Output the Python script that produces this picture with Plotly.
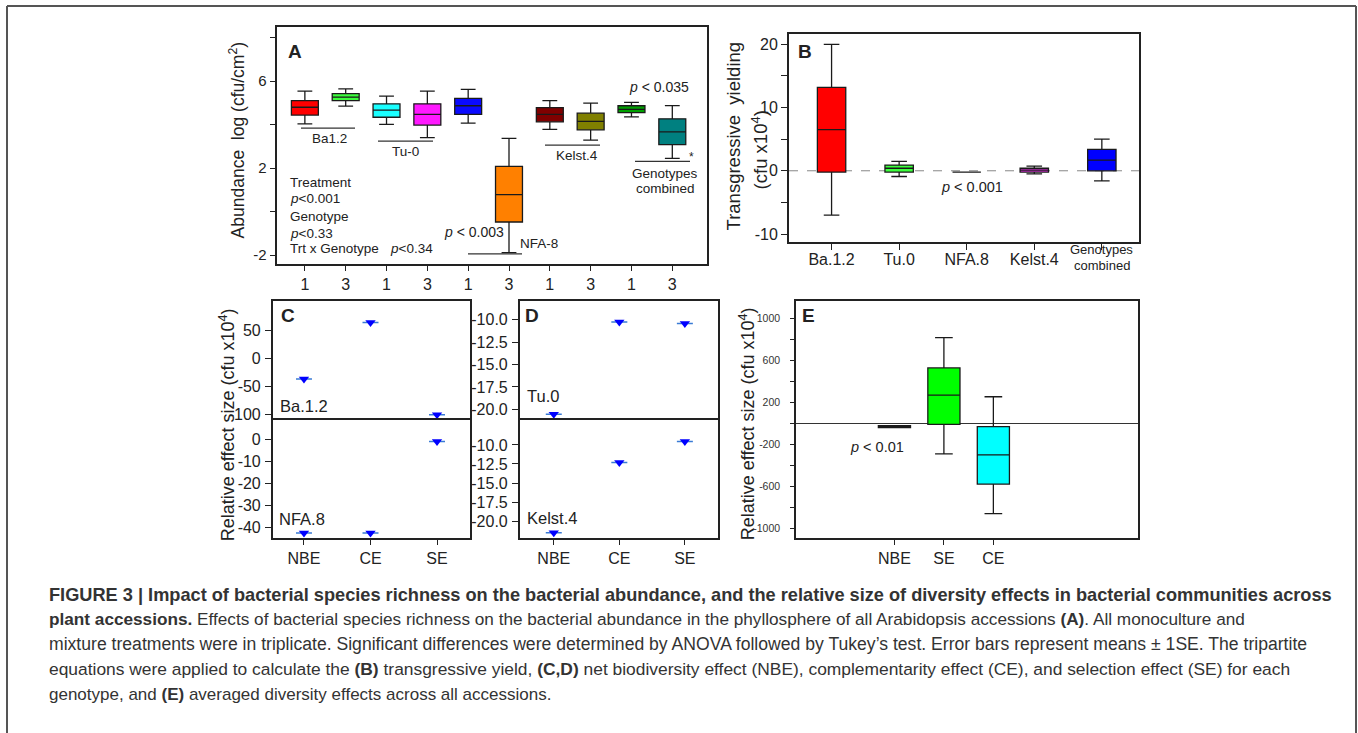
import plotly.graph_objects as go

W, H = 1358, 733

# ---------------- data ----------------
# Panel A: abundance log(cfu/cm2), richness 1 vs 3 for each genotype
a_tick_labels = ["1", "3", "1", "3", "1", "3", "1", "3", "1", "3"]
a_upper = [5.54, 5.65, 5.31, 5.54, 5.62, 3.37, 5.11, 4.99, 5.03, 4.88]
a_q3 = [5.11, 5.43, 4.96, 4.96, 5.21, 2.08, 4.78, 4.53, 4.87, 4.27]
a_median = [4.80, 5.27, 4.67, 4.47, 4.87, 0.78, 4.47, 4.15, 4.70, 3.67]
a_q1 = [4.44, 5.11, 4.34, 3.98, 4.47, -0.48, 4.13, 3.76, 4.55, 3.08]
a_lower = [4.04, 4.85, 4.01, 3.40, 4.07, -1.89, 3.78, 3.29, 4.36, 2.45]

# Panel B: transgressive yielding (cfu x10^4)
b_categories = ["Ba.1.2", "Tu.0", "NFA.8", "Kelst.4", "Genotypes combined"]
b_upper = [20.0, 1.5, -0.2, 0.75, 5.0]
b_q3 = [13.2, 0.9, -0.2, 0.4, 3.4]
b_median = [6.5, 0.4, -0.2, 0.1, 1.7]
b_q1 = [-0.2, -0.2, -0.2, -0.2, 0.0]
b_lower = [-7.0, -0.9, -0.2, -0.5, -1.6]

# Panels C, D: relative effect sizes
effect_categories = ["NBE", "CE", "SE"]
c_ba12 = [-37.0, 64.0, -101.0]
c_nfa8 = [-42.3, -42.3, -1.0]
d_tu0 = [-20.56, -10.26, -10.44]
d_kelst4 = [-21.53, -12.30, -9.56]

# Panel E: averaged diversity effects
e_categories = ["NBE", "SE", "CE"]
e_upper = [-20, 819, 256]
e_q3 = [-20, 531, -29]
e_median = [-29, 272, -298]
e_q1 = [-38, -7, -576]
e_lower = [-38, -288, -858]

# ---------------- styles ----------------
a_colors = ["#ff0000", "#3cff3c", "#19ffff", "#ff19ff", "#0a0aff",
            "#ff8000", "#800000", "#808000", "#00a000", "#008080"]
b_colors = ["#ff0000", "#3cff3c", "#888888", "#ff33ff", "#0000ff"]
e_colors = ["#222222", "#00ff00", "#00ffff"]

FONT = "Liberation Sans, Arial, sans-serif"
TXT = "#222222"


def px(x):
    return x / W


def py(y):
    return 1 - y / H


def xdom(x0, x1):
    return [px(x0), px(x1)]


def ydom(y0, y1):
    return [py(y1), py(y0)]


fig = go.Figure()


def add_boxes(xs, lo, q1, med, q3, hi, colors, xa, ya, width, lw=1.3):
    for i in range(len(xs)):
        fig.add_trace(go.Box(
            x=[xs[i]], lowerfence=[lo[i]], q1=[q1[i]], median=[med[i]],
            q3=[q3[i]], upperfence=[hi[i]], fillcolor=colors[i],
            line=dict(color="#1a1a1a", width=lw), width=width,
            whiskerwidth=0.55, boxpoints=False, showlegend=False,
            xaxis=xa, yaxis=ya, hoverinfo="skip"))


# Panel A
add_boxes(list(range(len(a_tick_labels))), a_lower, a_q1, a_median, a_q3,
          a_upper, a_colors, "x", "y", 0.66)
# Panel B
add_boxes(list(range(len(b_categories))), b_lower, b_q1, b_median, b_q3,
          b_upper, b_colors, "x2", "y2", 0.42)
# Panel E
add_boxes(list(range(len(e_categories))), e_lower, e_q1, e_median, e_q3,
          e_upper, e_colors, "x7", "y7", 0.65)


def add_points(vals, xa, ya):
    fig.add_trace(go.Scatter(
        x=list(range(len(effect_categories))), y=vals, mode="markers",
        marker=dict(symbol="triangle-down", size=9, color="#0000ff"),
        error_y=dict(type="data", array=[0] * len(vals), width=8,
                     color="#3a7bd5", thickness=1.5),
        showlegend=False, xaxis=xa, yaxis=ya, hoverinfo="skip"))


add_points(c_ba12, "x3", "y3")
add_points(c_nfa8, "x4", "y4")
add_points(d_tu0, "x5", "y5")
add_points(d_kelst4, "x6", "y6")

axis_common = dict(showline=True, linecolor="#222222", mirror=True,
                   showgrid=False, zeroline=False, ticks="outside",
                   tickcolor="#222222", tickfont=dict(family=FONT, size=16, color=TXT))


def minor(vals, ln):
    return dict(tickvals=vals, ticks="outside", ticklen=ln, tickcolor="#222222",
                showgrid=False)


fig.update_layout(
    # ---------- panel A axes ----------
    xaxis=dict(axis_common, domain=xdom(276.7, 707), anchor="y",
               range=[-0.69, 9.85], tickvals=list(range(10)),
               ticktext=a_tick_labels, linewidth=2, ticklen=5),
    yaxis=dict(axis_common, domain=ydom(27, 265), anchor="x",
               range=[-2.41, 8.5], tickvals=[-2, 2, 6],
               ticktext=["-2", "2", "6"], linewidth=2, ticklen=5,
               minor=minor([0, 4, 8], 5),
               tickfont=dict(family=FONT, size=15, color=TXT)),
    # ---------- panel B axes ----------
    xaxis2=dict(axis_common, domain=xdom(789, 1139), anchor="y2",
                range=[-0.63, 4.55], tickvals=[0, 1, 2, 3],
                ticktext=b_categories[:4], linewidth=2, ticklen=6,
                minor=minor([4], 6), ticklabelstandoff=-4),
    yaxis2=dict(axis_common, domain=ydom(34.3, 243), anchor="x2",
                range=[-11.26, 21.6], tickvals=[-10, 0, 10, 20],
                ticktext=["-10", "0", "10", "20"], linewidth=2,
                ticklen=6, minor=minor([-5, 5, 15], 6)),
    # ---------- panel C axes ----------
    xaxis3=dict(axis_common, domain=xdom(272.7, 470.3), anchor="y3",
                range=[-0.47, 2.5], showticklabels=False, ticks="",
                linewidth=1.5, side="top", mirror=False),
    yaxis3=dict(axis_common, domain=ydom(302.7, 421.3), anchor="x3",
                range=[-109.4, 101.6], tickvals=[50, 0, -50, -100],
                ticktext=["50", "0", "-50", "-100"], linewidth=1.5, ticklen=6,
                ticklabelstandoff=1),
    xaxis4=dict(axis_common, domain=xdom(272.7, 470.3), anchor="y4",
                range=[-0.47, 2.5], tickvals=[0, 1, 2],
                ticktext=effect_categories, linewidth=1.5, ticklen=5),
    yaxis4=dict(axis_common, domain=ydom(421.3, 540), anchor="x4",
                range=[-44.5, 8.85], tickvals=[0, -10, -20, -30, -40],
                ticktext=["0", "-10", "-20", "-30", "-40"], linewidth=1.5,
                ticklen=6, ticklabelstandoff=1),
    # ---------- panel D axes ----------
    xaxis5=dict(axis_common, domain=xdom(519.7, 718.3), anchor="y5",
                range=[-0.52, 2.51], showticklabels=False, ticks="",
                linewidth=1.5, side="top", mirror=False),
    yaxis5=dict(axis_common, domain=ydom(302.7, 421.3), anchor="x5",
                range=[-21.14, -7.97], tickvals=[-10, -12.5, -15, -17.5, -20],
                ticktext=["-10.0", "-12.5", "-15.0", "-17.5", "-20.0"],
                linewidth=1.5, ticklen=6, ticklabelstandoff=1),
    xaxis6=dict(axis_common, domain=xdom(519.7, 718.3), anchor="y6",
                range=[-0.52, 2.51], tickvals=[0, 1, 2],
                ticktext=effect_categories, linewidth=1.5, ticklen=5),
    yaxis6=dict(axis_common, domain=ydom(421.3, 540), anchor="x6",
                range=[-22.18, -6.68], tickvals=[-10, -12.5, -15, -17.5, -20],
                ticktext=["-10.0", "-12.5", "-15.0", "-17.5", "-20.0"],
                linewidth=1.5, ticklen=6, ticklabelstandoff=1),
    # ---------- panel E axes ----------
    xaxis7=dict(axis_common, domain=xdom(796, 1138.3), anchor="y7",
                range=[-1.99, 4.93], tickvals=[0, 1, 2],
                ticktext=e_categories, linewidth=1.5, ticklen=5),
    yaxis7=dict(axis_common, domain=ydom(302.7, 540), anchor="x7",
                range=[-1088, 1164],
                tickvals=[-1000, -600, -200, 200, 600, 1000],
                ticktext=["-1000", "-600", "-200", "200", "600", "1000"],
                minor=minor([-800, -400, 0, 400, 800], 4),
                linewidth=1.5, ticklen=4, ticklabelstandoff=8,
                tickfont=dict(family=FONT, size=10.5, color="#333333"),
                zeroline=True, zerolinecolor="#333333", zerolinewidth=1.3),
)

shapes = []
# dashed reference line in B
shapes.append(dict(type="line", xref="x2 domain", yref="y2", x0=0, x1=1,
                   y0=0, y1=0, line=dict(color="#888888", width=1, dash="dash"),
                   layer="below"))


def hline(x0, x1, y, color="#333333", width=1.2):
    shapes.append(dict(type="line", xref="paper", yref="paper",
                       x0=px(x0), x1=px(x1), y0=py(y), y1=py(y),
                       line=dict(color=color, width=width)))


# group underlines in A
hline(301, 355, 128.7)
hline(378, 433, 141.7)
hline(468, 522, 255)
hline(545, 600, 145.7)
hline(635, 690, 162)

# outer frame of the figure
for (x0, y0, x1, y1) in [(7, 6, 1356, 6), (7, 6, 7, 740), (1356, 6, 1356, 740)]:
    shapes.append(dict(type="line", xref="paper", yref="paper",
                       x0=px(x0), x1=px(x1), y0=py(y0), y1=py(y1),
                       line=dict(color="#555555", width=2)))

annotations = []


def text(x, y, s, size=14, anchor="center", bold=False, angle=0, color=TXT,
         family=FONT):
    if bold:
        s = "<b>" + s + "</b>"
    annotations.append(dict(x=px(x), y=py(y), xref="paper", yref="paper",
                            text=s, showarrow=False, xanchor=anchor,
                            yanchor="middle", textangle=angle,
                            font=dict(family=family, size=size, color=color)))


# panel letters
text(295, 52, "A", 19, bold=True)
text(805, 52, "B", 19, bold=True)
text(288, 317, "C", 19, bold=True)
text(532, 317, "D", 19, bold=True)
text(808, 317, "E", 19, bold=True)

# panel A labels
text(329.5, 139.3, "Ba1.2", 13.5)
text(405, 152.3, "Tu-0", 13.5)
text(539, 245, "NFA-8", 13.5)
text(474, 233.3, "<i>p</i> < 0.003", 14)
text(577, 155.7, "Kelst.4", 13.5)
text(658.5, 87.3, "<i>p</i> < 0.035", 14)
text(691, 158, "*", 12)
text(665, 174, "Genotypes", 13.5)
text(665, 189.3, "combined", 13.5)
text(288.3, 183.3, "Treatment", 13.5, anchor="left")
text(288.3, 199, "<i>p</i><0.001", 13.5, anchor="left")
text(288.3, 217.3, "Genotype", 13.5, anchor="left")
text(288.3, 234, "<i>p</i><0.33", 13.5, anchor="left")
text(288.3, 250, "Trt x Genotype", 13.5, anchor="left")
text(387.7, 250, "<i>p</i><0.34", 13.5, anchor="left")

# axis titles
text(237, 141, "Abundance  log (cfu/cm<sup>2</sup>)", 17.5, angle=-90)
text(733, 137, "Transgressive  yielding", 18.5, angle=-90)
text(760, 151, "(cfu x10<sup>4</sup>)", 18.5, angle=-90)
text(227, 426, "Relative effect size (cfu x10<sup>4</sup>)", 18, angle=-90)
text(747, 426, "Relative effect size (cfu x10<sup>4</sup>)", 18, angle=-90)

# panel B labels
text(972, 188, "<i>p</i> < 0.001", 14.5)
text(1101.7, 251, "Genotypes", 13)
text(1101.7, 267, "combined", 13)

# panel C / D labels
text(278, 408, "Ba.1.2", 16.5, anchor="left")
text(277, 521, "NFA.8", 16.5, anchor="left")
text(525, 398, "Tu.0", 16.5, anchor="left")
text(525, 520, "Kelst.4", 16.5, anchor="left")

# panel E label
text(877, 449, "<i>p</i> < 0.01", 14.5)

# caption
CAP = "Liberation Sans Narrow, Arial Narrow, sans-serif"
cap_lines = [
    "<b>FIGURE 3 | Impact of bacterial species richness on the bacterial abundance, and the relative size of diversity effects in bacterial communities across</b>",
    "<b>plant accessions.</b> Effects of bacterial species richness on the bacterial abundance in the phyllosphere of all Arabidopsis accessions <b>(A)</b>. All monoculture and",
    "mixture treatments were in triplicate. Significant differences were determined by ANOVA followed by Tukey’s test. Error bars represent means ± 1SE. The tripartite",
    "equations were applied to calculate the <b>(B)</b> transgressive yield, <b>(C,D)</b> net biodiversity effect (NBE), complementarity effect (CE), and selection effect (SE) for each",
    "genotype, and <b>(E)</b> averaged diversity effects across all accessions.",
]
cap_sizes = [18.2, 17.2, 17.6, 17.4, 17.0]
for i, line in enumerate(cap_lines):
    text(47, 597 + 25 * i, line, cap_sizes[i], anchor="left", color="#333333",
         family=CAP)

fig.update_layout(
    width=W, height=H, margin=dict(l=0, r=0, t=0, b=0),
    paper_bgcolor="white", plot_bgcolor="white",
    font=dict(family=FONT, color=TXT),
    shapes=shapes, annotations=annotations, showlegend=False,
    boxmode="overlay",
)

fig.write_html("out.html")
